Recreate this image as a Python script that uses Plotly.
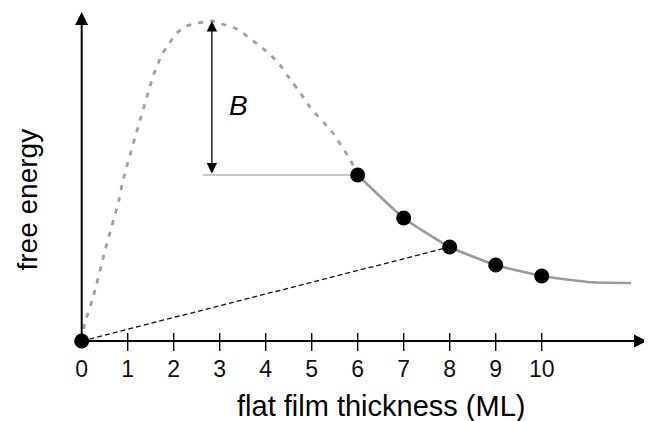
import plotly.graph_objects as go

# ---- data ----
TICK_VALUES = [0, 1, 2, 3, 4, 5, 6, 7, 8, 9, 10]
TICK_LABELS = ["0", "1", "2", "3", "4", "5", "6", "7", "8", "9", "10"]

# stable flat-film energies (black dots)
POINT_X = [6, 7, 8, 9, 10]
POINT_Y = [166, 123, 94, 76, 65]

# solid grey free-energy curve through the stable films
CURVE_X = [6, 7, 8, 9, 10, 11, 11.94]
CURVE_Y = [166, 123, 94, 76, 65, 59, 58]

# dashed grey (unstable) branch from 0 ML over the barrier to 6 ML
BARRIER_X = [0, 0.07, 0.25, 0.51, 0.81, 0.90, 1.30, 1.45, 1.56, 1.74, 1.88, 2.07,
             2.28, 2.53, 2.83, 3.12, 3.37, 3.62, 3.84, 4.06, 4.31, 4.57, 4.71,
             4.96, 5.46, 5.84, 6.0]
BARRIER_Y = [0, 18, 44, 91, 141, 161, 226, 249, 266, 286, 296, 308,
             315, 318, 320, 316, 312, 304, 296, 288, 276, 259, 251,
             234, 208, 181, 166]

# origin (substrate) dot and tie line to 8 ML
ORIGIN = (0, 0)
TIE_X = [0, 8]
TIE_Y = [0, 94]

X_TITLE = "flat film thickness (ML)"
Y_TITLE = "free energy"
BARRIER_LABEL = "B"

# ---- layout constants ----
PAGE_W, PAGE_H = 652, 421
BODY_MARGIN = 8          # default page margin around the plot div
W, H = PAGE_W - BODY_MARGIN, PAGE_H - BODY_MARGIN
PX_PER_X = 46.0
X0_PX = 81.7
AXIS_PX = 341.0
X_RANGE = [(BODY_MARGIN - X0_PX) / PX_PER_X, (PAGE_W - X0_PX) / PX_PER_X]
Y_RANGE = [AXIS_PX - PAGE_H, AXIS_PX - BODY_MARGIN]
X_AXIS_END = (647 - X0_PX) / PX_PER_X
Y_AXIS_END = AXIS_PX - 12

FONT = "Liberation Sans, Arial, sans-serif"

fig = go.Figure()

# dashed unstable branch
fig.add_trace(go.Scatter(
    x=BARRIER_X, y=BARRIER_Y, mode="lines",
    line=dict(color="#a0a0a0", width=2.8, dash="5px,7px", shape="spline", smoothing=0.6),
    hoverinfo="skip", showlegend=False))

# solid curve
fig.add_trace(go.Scatter(
    x=CURVE_X, y=CURVE_Y, mode="lines",
    line=dict(color="#9a9a9a", width=2.6, shape="spline", smoothing=0.5),
    hoverinfo="skip", showlegend=False))

# tie line
fig.add_trace(go.Scatter(
    x=TIE_X, y=TIE_Y, mode="lines",
    line=dict(color="#111111", width=1.3, dash="5px,3px"),
    hoverinfo="skip", showlegend=False))

# horizontal dotted reference line at 6 ML energy
peak_i = BARRIER_Y.index(max(BARRIER_Y))
peak_x = BARRIER_X[peak_i]
fig.add_trace(go.Scatter(
    x=[peak_x - 0.18, POINT_X[0]], y=[POINT_Y[0], POINT_Y[0]], mode="lines",
    line=dict(color="#222222", width=1.2, dash="1px,1px"),
    hoverinfo="skip", showlegend=False))

# tick marks
tx, ty = [], []
for v in TICK_VALUES[1:]:
    tx += [v, v, None]
    ty += [8, -10, None]
fig.add_trace(go.Scatter(
    x=tx, y=ty, mode="lines", line=dict(color="#000000", width=1.4),
    hoverinfo="skip", showlegend=False))

# dots
fig.add_trace(go.Scatter(
    x=[ORIGIN[0]] + POINT_X, y=[ORIGIN[1]] + POINT_Y, mode="markers",
    marker=dict(color="#000000", size=15), cliponaxis=False,
    hoverinfo="skip", showlegend=False))

# tick labels
fig.add_trace(go.Scatter(
    x=TICK_VALUES, y=[-30] * len(TICK_VALUES), mode="text", text=TICK_LABELS,
    textfont=dict(family=FONT, size=23, color="#111111"), textposition="middle center",
    hoverinfo="skip", showlegend=False))

annotations = [
    # x axis arrow
    dict(x=X_AXIS_END, y=0, ax=0, ay=0, xref="x", yref="y", axref="x", ayref="y",
         text="", showarrow=True, arrowhead=2, arrowsize=1.3, arrowwidth=2, arrowcolor="#000"),
    # y axis arrow
    dict(x=0, y=Y_AXIS_END, ax=0, ay=0, xref="x", yref="y", axref="x", ayref="y",
         text="", showarrow=True, arrowhead=2, arrowsize=1.3, arrowwidth=2, arrowcolor="#000"),
    # barrier double arrow
    dict(x=peak_x, y=max(BARRIER_Y), ax=peak_x, ay=POINT_Y[0], xref="x", yref="y",
         axref="x", ayref="y", text="", showarrow=True, arrowhead=2, startarrowhead=2,
         arrowside="end+start", arrowsize=1.6, startarrowsize=1.6, arrowwidth=1.3,
         arrowcolor="#000"),
    # B label
    dict(x=3.41, y=236, xref="x", yref="y", text="<i>" + BARRIER_LABEL + "</i>",
         showarrow=False, font=dict(family=FONT, size=28, color="#000")),
    # axis titles
    dict(x=6.5, y=-65, xref="x", yref="y", text=X_TITLE, showarrow=False,
         font=dict(family=FONT, size=29, color="#000")),
    dict(x=-1.2, y=141, xref="x", yref="y", text=Y_TITLE, showarrow=False, textangle=-90,
         font=dict(family=FONT, size=28, color="#000")),
]

fig.update_layout(
    width=W, height=H, margin=dict(l=0, r=0, t=0, b=0),
    paper_bgcolor="white", plot_bgcolor="white",
    xaxis=dict(range=X_RANGE, visible=False, fixedrange=True),
    yaxis=dict(range=Y_RANGE, visible=False, fixedrange=True),
    annotations=annotations, showlegend=False,
)

fig.write_html("out.html")
